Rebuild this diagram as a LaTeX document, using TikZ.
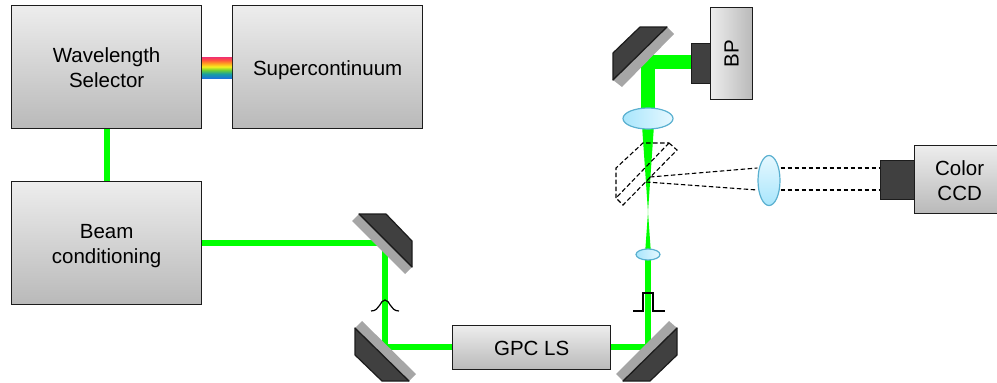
\documentclass[tikz,border=0pt]{standalone}
\usepackage{fontspec}
\setmainfont{Liberation Sans}
\definecolor{beam}{HTML}{00FF00}
\definecolor{mdark}{HTML}{404040}
\definecolor{mgray}{HTML}{A6A6A6}
\definecolor{lensline}{HTML}{5AB0D0}
\definecolor{lenslo}{HTML}{A9E6FC}
\definecolor{lenshi}{HTML}{E6F8FF}
\definecolor{boxhi}{HTML}{EDEDED}
\definecolor{boxlo}{HTML}{B9B9B9}
\definecolor{edge}{HTML}{1C1C1C}
\definecolor{rbA}{HTML}{1C74D8}
\definecolor{rbB}{HTML}{18A0A0}
\definecolor{rbC}{HTML}{70D030}
\definecolor{rbD}{HTML}{F8F020}
\definecolor{rbE}{HTML}{FFA020}
\definecolor{rbF}{HTML}{FF5040}
\definecolor{rbG}{HTML}{F03070}
\pgfdeclareverticalshading{rainbowshade}{100bp}{
  color(0bp)=(rbA);
  color(25bp)=(rbA);
  color(35bp)=(rbB);
  color(44bp)=(rbC);
  color(52bp)=(rbD);
  color(60bp)=(rbE);
  color(68bp)=(rbF);
  color(75bp)=(rbG);
  color(100bp)=(rbG)}
\newcommand\boxtext[1]{\raisebox{-3pt}[\height][\depth]{\begin{tabular}{@{}c@{}}#1\end{tabular}}}
\tikzset{
  greybox/.style={draw=edge,line width=1.3pt,top color=boxhi,bottom color=boxlo,inner sep=0pt,align=center,font=\fontsize{20.5}{25}\selectfont,anchor=north west},
  laser/.style={draw=beam,line width=6pt,line join=miter},
  darkbox/.style={draw=edge,line width=1.2pt,fill=mdark,inner sep=0pt,anchor=north west},
  mirrorback/.style={draw=edge,line width=1.2pt,fill=mdark,line join=round},
  mirrorface/.style={fill=mgray},
  lens/.style={ellipse,draw=lensline,line width=1.2pt,inner sep=0pt},
  dashline/.style={draw=black,line width=1.1pt,dash pattern=on 4.5pt off 2.5pt},
  pulse/.style={draw=black,line width=1.2pt},
}
\usetikzlibrary{shapes.geometric}
\begin{document}
\begin{tikzpicture}[x=1pt,y=-1pt]
\useasboundingbox (0,0) rectangle (997,383);
% named beam way points
\coordinate (m2) at (385,243);
\coordinate (m3) at (385,347);
\coordinate (m4) at (648,347);
\coordinate (m1) at (648,62);
% boxes
\node[greybox,minimum width=190pt,minimum height=123pt] (wl) at (11,5) {\boxtext{Wavelength\\Selector}};
\node[greybox,minimum width=190pt,minimum height=123pt] (sc) at (232,5) {\boxtext{Supercontinuum}};
\node[greybox,minimum width=190pt,minimum height=123pt] (bc) at (11,181) {\boxtext{Beam\\conditioning}};
\node[greybox,minimum width=158pt,minimum height=44pt] (gpc) at (452,325) {\boxtext{GPC LS}};
\node[draw=edge,line width=1.3pt,left color=boxhi,right color=boxlo,inner sep=0pt,minimum width=42pt,minimum height=92pt,anchor=north west] (bp) at (710,7) {\rotatebox{90}{\fontsize{20.5}{25}\selectfont BP}};
\node[greybox,minimum width=90pt,minimum height=68pt] (ccd) at (914,145) {\boxtext{Color\\CCD}};
\node[darkbox,minimum width=19pt,minimum height=40pt] (bpd) at (691,43) {};
\node[darkbox,minimum width=34pt,minimum height=39pt] (ccdd) at (880,160) {};
% rainbow
\shade[shading=rainbowshade] (202,57) rectangle (232,78);
% green beams
\draw[laser] (wl.south) -- (wl.south |- bc.north);
\draw[laser] (bc.east |- m2) -- (m2) -- (m3) -- (gpc.west |- m3);
\draw[laser] (gpc.east |- m4) -- (m4) -- (648,254);
\fill[beam] (645,254) -- (648,212) -- (651,254) -- cycle;
\fill[beam] (648,212) -- (641.5,118) -- (654.5,118) -- cycle;
\draw[beam,line width=14pt] (648,118) -- (m1) -- (bpd.west |- m1);
% mirrors
\draw[mirrorback] (613,53) -- (640,27) -- (667,27) -- (613,80) -- cycle;
\fill[mirrorface] (667,27) -- (674,34) -- (622,87) -- (613,80) -- cycle;
\draw[edge,line width=1.2pt] (667,27) -- (613,80);
\draw[mirrorback] (359,214) -- (386,214) -- (412,241) -- (412,267) -- cycle;
\fill[mirrorface] (359,214) -- (352,221) -- (405,274) -- (412,267) -- cycle;
\draw[edge,line width=1.2pt] (359,214) -- (412,267);
\draw[mirrorback] (355,328) -- (409,381) -- (382,381) -- (355,355) -- cycle;
\fill[mirrorface] (355,328) -- (362,321) -- (416,374) -- (409,381) -- cycle;
\draw[edge,line width=1.2pt] (355,328) -- (409,381);
\draw[mirrorback] (677,328) -- (623,381) -- (650,381) -- (677,355) -- cycle;
\fill[mirrorface] (677,328) -- (669,321) -- (616,374) -- (623,381) -- cycle;
\draw[edge,line width=1.2pt] (677,328) -- (623,381);
% lenses
\node[lens,left color=lenslo,right color=lenshi,minimum width=50pt,minimum height=21pt] (l1) at (648,118.5) {};
\node[lens,left color=lenslo,right color=lenshi,minimum width=24pt,minimum height=11pt] (l3) at (648,254.5) {};
\node[lens,top color=lenshi,bottom color=lenslo,minimum width=22pt,minimum height=50pt] (l2) at (769,180.5) {};
% dashed beam splitter and imaging rays
\draw[dashline] (616,198) -- (616,168) -- (643,143) -- (669,143);
\draw[dashline] (669,143) -- (677,150) -- (623,205) -- (616,198);
\draw[dashline] (669,143) -- (616,198);
\draw[dashline] (650,177) -- (l2.west |- 0,168);
\draw[dashline] (646,182) -- (l2.west |- 0,190);
\draw[dashline] (l2.east |- 0,168) -- (ccdd.west |- 0,168);
\draw[dashline] (l2.east |- 0,190) -- (ccdd.west |- 0,190);
% pulses
\draw[pulse] (371,311) .. controls (380,311) and (380,300) .. (385,300) .. controls (390,300) and (390,311) .. (399,311);
\draw[pulse] (633,311) -- (643,311) -- (643,293) -- (653,293) -- (653,311) -- (665,311);
\end{tikzpicture}
\end{document}
